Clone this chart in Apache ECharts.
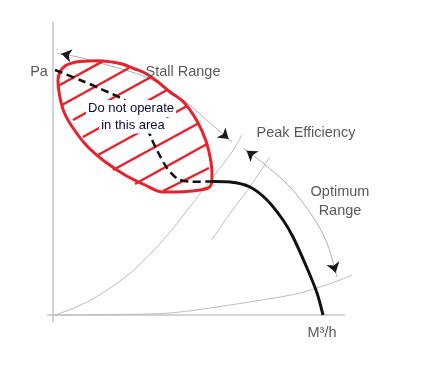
<!DOCTYPE html>
<html><head><meta charset="utf-8">
<script src="https://cdn.jsdelivr.net/npm/echarts@6/dist/echarts.min.js"></script>
<style>html,body{margin:0;padding:0;background:#fff}#c{width:434px;height:383px}</style>
</head><body><div id="c"></div>
<script>
// Data space: 1 unit = 1 px, origin at the axes' crossing, y upwards.
const xAxisLine = [[-6, 0], [292, 0]];
const yAxisLine = [[0, -7], [0, 293]];

// Fan curve (solid part) and the stall part (dashed)
const fanCurve = [[160,133.5],[177,133],[197,128],[214,115],[230,95],[240,78],[254,47],[264,22],[270,0]];
const stallCurve = [[2,245],[27,235],[47,226.5],[74,213],[90,195],[100,173],[107,159],[114,147],[125,136],[139,133.3],[160,133.5]];

// Grey helper curves
const systemCurveSteep = [[2,0],[20.3,6.7],[43.7,18.3],[77,41.7],[110.3,75],[137,108.3],[160.3,138.3],[180.3,165],[189,180]];
const efficiencyArc = [[158.7,75],[177,101.7],[197,128.3],[217,158.3]];
const systemCurveFlat = [[0,0],[60,0.5],[117,2],[177,10],[227,18],[247,22],[267,28],[287,35],[299,40]];
const stallRangeArc = [[4,262],[27,257.5],[47,252],[67,246.5],[89,239.5],[107,231],[122,221],[140,207],[160,189.5],[179,173]];
const optimumRangeArc = [[190,167],[210,152],[237,128],[260,98],[274,72],[284,38]];

// Red "do not operate" zone
const noGoOutline = [[51,154],[34,169],[20,187],[11,203],[6.5,220],[5,235],[7,243],[12,249],[19,252],[27,253.5],[45,254.3],[59,253],[69,251],[82,246],[92,242],[105,233],[117,223],[131,212.5],[144,194],[153,174],[158,153],[159,139],[158,130],[154,126.5],[139,124],[123,123],[110,123],[92,130],[72,140],[51,154]];
const hatchLines = [
  [[6,229.5],[50,253.8]],
  [[9,210],[76,247]],
  [[20,195],[98,238]],
  [[30,178],[114,225]],
  [[45,160],[134,209]],
  [[60,145],[146,192]],
  [[82,131],[154,171]],
  [[110,124],[156,147]]
];

const labels = ['Pa', 'Stall Range', 'Peak Efficiency', 'Optimum', 'Range', 'M³/h'];
const noteLines = ['Do not operate', 'in this area'];

function arrowAt(pts, atEnd) {
  const a = atEnd ? pts[pts.length - 1] : pts[0];
  const b = atEnd ? pts[pts.length - 2] : pts[1];
  const dx = a[0] - b[0], dy = a[1] - b[1];
  const L = Math.hypot(dx, dy);
  const back = 4.5;
  const e = [a[0] - dx / L * back, a[1] - dy / L * back];
  const s = [a[0] - dx / L * (back + 1), a[1] - dy / L * (back + 1)];
  return { coords: [s, e] };
}

const grey = '#bdbdbd';
const red = '#e8212b';
const FONT = '"Liberation Sans", Arial, sans-serif';

function lineS(data, color, width, extra) {
  return Object.assign({
    type: 'line', data: data, smooth: 0.3, symbol: 'none', showSymbol: false,
    silent: true, animation: false,
    lineStyle: { color: color, width: width }
  }, extra || {});
}

const chart = echarts.init(document.getElementById('c'), null, { renderer: 'canvas' });
const greyText = (t, x, y) => ({
  type: 'text', x: x, y: y, z: 100,
  style: { text: t, font: '14.5px ' + FONT, fill: '#595959', align: 'center', verticalAlign: 'middle' }
});
const noteText = (t, x, y) => ({
  type: 'text', x: x, y: y, z: 101,
  style: { text: t, font: '13px ' + FONT, fill: '#0a0a38', align: 'center', verticalAlign: 'middle',
           backgroundColor: '#ffffff', padding: [2, 2, 2, 2], lineHeight: 13 }
});

chart.setOption({
  animation: false,
  backgroundColor: '#ffffff',
  grid: { left: 0, right: 0, top: 0, bottom: 0, containLabel: false },
  xAxis: { type: 'value', min: -53, max: 381, show: false },
  yAxis: { type: 'value', min: -68, max: 315, show: false },
  series: [
    lineS(xAxisLine, '#c6c6c6', 1.5, { smooth: false, z: 1 }),
    lineS(yAxisLine, '#c6c6c6', 1.5, { smooth: false, z: 1 }),
    lineS(systemCurveSteep, grey, 1, { z: 1 }),
    lineS(efficiencyArc, grey, 1, { z: 1 }),
    lineS(systemCurveFlat, grey, 1, { z: 1 }),
    lineS(stallRangeArc, '#b0b0b0', 1, { z: 1 }),
    lineS(optimumRangeArc, '#b0b0b0', 1, { z: 1 }),
    {
      type: 'lines', coordinateSystem: 'cartesian2d', silent: true, animation: false, z: 5,
      symbol: ['none', 'arrow'], symbolSize: 10,
      lineStyle: { color: '#1a1a1a', width: 1, opacity: 1 },
      data: [arrowAt(stallRangeArc, false), arrowAt(stallRangeArc, true),
             arrowAt(optimumRangeArc, false), arrowAt(optimumRangeArc, true)]
    },
    lineS(noGoOutline, red, 3, { z: 3, smooth: 0.35 }),
    {
      type: 'lines', coordinateSystem: 'cartesian2d', silent: true, animation: false, z: 3,
      symbol: 'none',
      lineStyle: { color: red, width: 2.5, opacity: 1 },
      data: hatchLines.map(c => ({ coords: c }))
    },
    lineS(stallCurve, '#111', 2.5, { z: 4, lineStyle: { color: '#111', width: 2.5, type: [8, 4.5] } }),
    lineS(fanCurve, '#111', 3, { z: 4 })
  ],
  graphic: [
    greyText(labels[0], 39, 72),
    greyText(labels[1], 183, 71.5),
    greyText(labels[2], 306, 133),
    greyText(labels[3], 340, 191.5),
    greyText(labels[4], 340, 210.5),
    greyText(labels[5], 322, 333),
    noteText(noteLines[0], 131, 108.5),
    noteText(noteLines[1], 133, 125)
  ]
});
</script></body></html>
